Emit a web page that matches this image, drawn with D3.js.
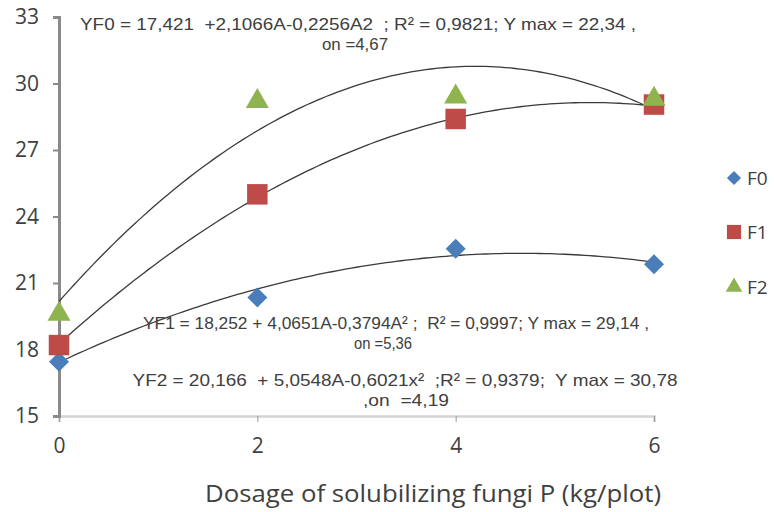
<!DOCTYPE html>
<html>
<head>
<meta charset="utf-8">
<script src="https://cdn.jsdelivr.net/npm/d3@7"></script>
<style>
    body { margin: 0; background: #fff; }
    text { font-family: "Open Sans", "Noto Sans", sans-serif; fill: #404040; white-space: pre; }
    text.eq { font-family: "Liberation Sans", Arial, sans-serif; }
</style>
</head>
<body>
<div id="chart"></div>
<script>

// dosage levels (x)
let dosages = [0, 2, 4, 6];

// observed values per series
let seriesNames = ["F0", "F1", "F2"];
let f0Values = [17.45, 20.35, 22.55, 21.85];
let f1Values = [18.2, 25.0, 28.4, 29.05];
let f2Values = [19.6, 29.2, 29.4, 29.3];

// quadratic trendline coefficients (a + bA + cA^2), as printed on the chart
let f0Coef = [17.421, 2.1066, -0.2256];
let f1Coef = [18.252, 4.0651, -0.3794];
let f2Coef = [20.166, 5.0548, -0.6021];

let yTicks = [15, 18, 21, 24, 27, 30, 33];
let xTicks = [0, 2, 4, 6];

// each equation label is two lines
let equationLabels = [
    ["YF0 = 17,421  +2,1066A-0,2256A2  ; R\u00B2 = 0,9821; Y max = 22,34 ,", "on =4,67"],
    ["YF1 = 18,252 + 4,0651A-0,3794A\u00B2 ;  R\u00B2 = 0,9997; Y max = 29,14 ,", "on =5,36"],
    ["YF2 = 20,166  + 5,0548A-0,6021x\u00B2  ;R\u00B2 = 0,9379;  Y max = 30,78", ",on  =4,19"]
];

let xTitle = "Dosage of solubilizing fungi P (kg/plot)";

let colors = {F0: "#4a7ebb", F1: "#be4b48", F2: "#8fb34f"};

// ---------------------------------------------------------------------

let width = 774, height = 512;
let margin = {top: 17, right: 120, bottom: 96, left: 59};

let svg = d3.select("#chart").append("svg")
    .attr("width", width)
    .attr("height", height);

let x = d3.scaleLinear().domain([0, 6]).range([margin.left, 654]);
let y = d3.scaleLinear().domain([15, 33]).range([416, margin.top]);

// x axis
let xAxis = d3.axisBottom(x).tickValues(xTicks).tickSize(6).tickFormat(d3.format("d"));
let xg = svg.append("g")
    .attr("transform", `translate(0,${y(15)})`)
    .call(xAxis);
xg.select(".domain").attr("stroke", "#d4d4d4").attr("stroke-width", 2.5);
xg.selectAll(".tick line").attr("stroke", "#9a9a9a").attr("stroke-width", 1);
xg.selectAll(".tick text")
    .attr("y", 22)
    .style("font-size", "21px")
    .attr("fill", "#404040")
    .attr("font-family", "Open Sans, sans-serif");

// y axis
let yAxis = d3.axisLeft(y).tickValues(yTicks).tickSize(6).tickPadding(14);
let yg = svg.append("g")
    .attr("transform", `translate(${x(0)},0)`)
    .call(yAxis);
yg.select(".domain").attr("stroke", "#8a8a8a").attr("stroke-width", 3);
yg.selectAll(".tick line").attr("stroke", "#8a8a8a").attr("stroke-width", 2);
yg.selectAll(".tick text")
    .style("font-size", "21px")
    .attr("fill", "#404040")
    .attr("font-family", "Open Sans, sans-serif");

// trendlines
let line = d3.line()
    .x(d => x(d[0]))
    .y(d => y(d[1]))
    .curve(d3.curveLinear);

let trendSamples = d3.range(0, 6.0001, 0.05);
[f0Coef, f1Coef, f2Coef].forEach(c => {
    let pts = trendSamples.map(a => [a, c[0] + c[1] * a + c[2] * a * a]);
    svg.append("path")
        .datum(pts)
        .attr("fill", "none")
        .attr("stroke", "#3a3a3a")
        .attr("stroke-width", 1.3)
        .attr("d", line);
});

// markers
let diamond = d3.symbol().type(d3.symbolSquare).size(200);
let square = d3.symbol().type(d3.symbolSquare).size(420);
let triangle = d3.symbol().type(d3.symbolTriangle).size(230);

function drawMarkers(values, name, shape, rotate) {
    svg.append("g").selectAll("path")
        .data(values)
        .enter()
        .append("path")
        .attr("d", shape)
        .attr("fill", colors[name])
        .attr("transform", (d, i) => `translate(${x(dosages[i])},${y(d)}) rotate(${rotate})`);
}

drawMarkers(f0Values, "F0", diamond, 45);
drawMarkers(f1Values, "F1", square, 0);
drawMarkers(f2Values, "F2", triangle, 0);

// equation labels (one text each, two lines as tspans)
let eqPos = [
    {y: 30, lines: [{x: 358, w: 556}, {x: 355, w: 66}]},
    {y: 329, lines: [{x: 396, w: 506}, {x: 383, w: 58}]},
    {y: 386, lines: [{x: 405, w: 545}, {x: 406, w: 86}]}
];
equationLabels.forEach((lines, i) => {
    let t = svg.append("text")
        .attr("class", "eq")
        .attr("y", eqPos[i].y)
        .attr("text-anchor", "middle")
        .style("font-size", "17px");
    lines.forEach((s, j) => {
        t.append("tspan")
            .attr("x", eqPos[i].lines[j].x)
            .attr("y", eqPos[i].y + j * 20)
            .attr("textLength", eqPos[i].lines[j].w)
            .attr("lengthAdjust", "spacingAndGlyphs")
            .text(s);
    });
});

// x axis title
svg.append("text")
    .attr("x", 433)
    .attr("y", 502)
    .attr("text-anchor", "middle")
    .attr("textLength", 456)
    .attr("lengthAdjust", "spacingAndGlyphs")
    .style("font-size", "24px")
    .attr("fill", "#262626")
    .text(xTitle);

// legend
let legendShapes = [
    {shape: d3.symbol().type(d3.symbolSquare).size(100), rot: 45},
    {shape: d3.symbol().type(d3.symbolSquare).size(200), rot: 0},
    {shape: d3.symbol().type(d3.symbolTriangle).size(120), rot: 0}
];
let legendY = [178, 232, 287];
seriesNames.forEach((name, i) => {
    svg.append("path")
        .attr("d", legendShapes[i].shape)
        .attr("fill", colors[name])
        .attr("transform", `translate(734,${legendY[i]}) rotate(${legendShapes[i].rot})`);
    svg.append("text")
        .attr("x", 747)
        .attr("y", legendY[i] + 7)
        .style("font-size", "19px")
        .text(name);
});

</script>
</body>
</html>
